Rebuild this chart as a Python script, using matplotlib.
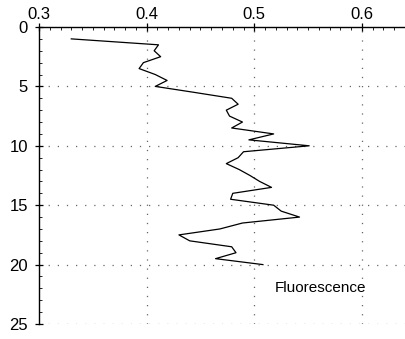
import matplotlib
matplotlib.use("Agg")
import matplotlib.pyplot as plt
from matplotlib.ticker import MultipleLocator

plt.rcParams['font.family'] = ['Liberation Sans', 'DejaVu Sans']

# Fluorescence profile against depth
depth = [1.0, 1.5, 2.0, 2.5, 3.0, 3.5, 4.0, 4.5, 5.0, 5.5,
         6.0, 6.5, 7.0, 7.5, 8.0, 8.5, 9.0, 9.5, 10.0, 10.5,
         11.0, 11.5, 12.0, 12.5, 13.0, 13.5, 14.0, 14.5, 15.0, 15.5,
         16.0, 16.5, 17.0, 17.5, 18.0, 18.5, 19.0, 19.5, 20.0]
fluorescence = [0.330, 0.411, 0.407, 0.413, 0.397, 0.393, 0.408, 0.419, 0.408, 0.444,
                0.479, 0.485, 0.474, 0.477, 0.489, 0.479, 0.518, 0.495, 0.551, 0.490,
                0.485, 0.474, 0.486, 0.496, 0.505, 0.516, 0.480, 0.478, 0.518, 0.525,
                0.542, 0.489, 0.468, 0.430, 0.440, 0.479, 0.483, 0.464, 0.508]

x_ticks = [0.3, 0.4, 0.5, 0.6]
y_ticks = [0, 5, 10, 15, 20, 25]

fig = plt.figure(figsize=(4.06, 3.39), dpi=100)
ax = fig.add_axes([39 / 406, 15 / 339, (405 - 39) / 406, (324 - 27) / 339])

ax.plot(fluorescence, depth, color='black', lw=0.9)

ax.set_xlim(0.3, 0.64)
ax.set_ylim(25, 0)
ax.xaxis.tick_top()
ax.set_xticks(x_ticks)
ax.set_yticks(y_ticks)
ax.set_xticklabels([f"{v:.1f}" for v in x_ticks])
ax.xaxis.set_minor_locator(MultipleLocator(0.01))
ax.yaxis.set_minor_locator(MultipleLocator(1))

for s in ('bottom', 'right'):
    ax.spines[s].set_visible(False)
for s in ('top', 'left'):
    ax.spines[s].set_linewidth(1.0)

ax.tick_params(which='major', direction='inout', length=6, width=0.9,
               labelsize=12)
ax.tick_params(axis='x', which='major', pad=0.5)
ax.tick_params(axis='y', which='major', pad=5)
ax.tick_params(which='minor', direction='in', length=2, width=0.6)
ax.tick_params(axis='x', which='both', top=True, bottom=False)
ax.tick_params(axis='y', which='both', left=True, right=False)

grid_style = dict(color='#666666', lw=0.9, linestyle=(0, (1, 6.3)))
for v in x_ticks[1:]:
    ax.axvline(v, **grid_style, zorder=0)
for v in y_ticks[1:]:
    ax.axhline(v, **grid_style, zorder=0)

ax.text(0.519, 22.0, 'Fluorescence', fontsize=11, va='center', ha='left')

fig.savefig('out.png', dpi=100)
